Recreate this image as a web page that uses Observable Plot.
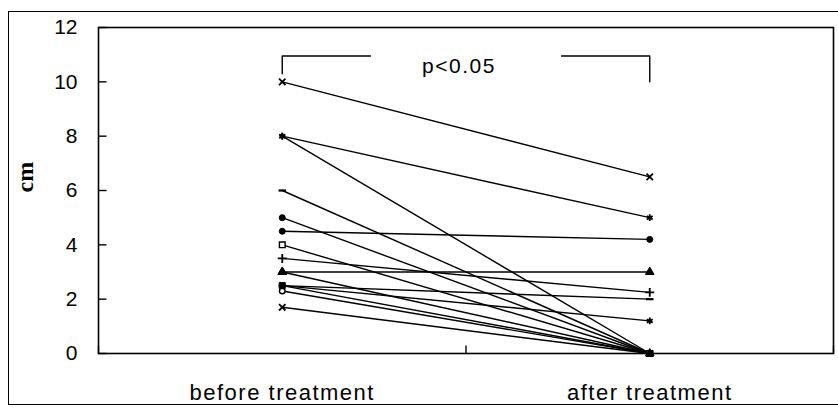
<!DOCTYPE html>
<html><head><meta charset="utf-8">
<script src="https://cdn.jsdelivr.net/npm/d3@7"></script>
<script src="https://cdn.jsdelivr.net/npm/@observablehq/plot@0.6"></script>
<style>
body{margin:0;background:#fff;}
#wrap{position:relative;width:838px;height:417px;overflow:hidden;background:#fff;}
#outer{position:absolute;left:8px;top:11px;width:845px;height:394px;border:1.5px solid #000;box-sizing:border-box;pointer-events:none;}
#chart{position:absolute;left:0;top:0;}
</style></head>
<body><div id="wrap"><div id="chart"></div><div id="outer"></div></div>
<script>
// ---- data ----
const categories = ["before treatment", "after treatment"];
const beforeValues = [10, 8, 8, 6, 5, 4.5, 4, 3.5, 3, 3, 2.5, 2.5, 2.5, 2.3, 1.7];
const afterValues  = [6.5, 5, 0, 0, 0, 4.2, 0, 2.25, 3, 0, 2, 1.2, 0, 0, 0];
const seriesMarkers = ["times","asterisk","asterisk","dash","circle","circle","squareOpen","plus",
                       "triangle","triangle","dash","asterisk","square","circleOpen","times"];
const yTicks = [0, 2, 4, 6, 8, 10, 12];
const xTicks = [0, 1, 2];
const yLabel = "cm";
const pLabel = "p<0.05";
const bracketY = 10.95;
const bracketLeft = [[0.5, 10.3], [0.5, bracketY], [0.74, bracketY]];
const bracketRight = [[1.26, bracketY], [1.5, bracketY], [1.5, 10.0]];

// ---- build rows ----
const rows = [];
beforeValues.forEach((v, i) => {
  rows.push({series: i, x: 0.5, y: v, marker: seriesMarkers[i]});
  rows.push({series: i, x: 1.5, y: afterValues[i], marker: seriesMarkers[i]});
});

// custom symbols
const dashSym = {draw(ctx, size) { const w = Math.sqrt(size) * 0.7; ctx.moveTo(-w, 0); ctx.lineTo(w, 0); }};
const tickRight = {draw(ctx) { ctx.moveTo(0, 0); ctx.lineTo(8, 0); }};
const tickUp = {draw(ctx) { ctx.moveTo(0, 0); ctx.lineTo(0, -8); }};

const markerStyles = {
  times:      {symbol: "times", fill: "none", stroke: "black", strokeWidth: 1.8, r: 3},
  asterisk:   {symbol: "asterisk", fill: "none", stroke: "black", strokeWidth: 1.8, r: 3.2},
  dash:       {symbol: dashSym, fill: "none", stroke: "black", strokeWidth: 2.2, r: 3},
  circle:     {symbol: "circle", fill: "black", stroke: "black", strokeWidth: 1, r: 3},
  circleOpen: {symbol: "circle", fill: "white", stroke: "black", strokeWidth: 1.4, r: 2.8},
  square:     {symbol: "square", fill: "black", stroke: "black", strokeWidth: 1, r: 3.4},
  squareOpen: {symbol: "square", fill: "white", stroke: "black", strokeWidth: 1.4, r: 3.2},
  plus:       {symbol: "plus", fill: "none", stroke: "black", strokeWidth: 1.8, r: 3},
  triangle:   {symbol: "triangle", fill: "black", stroke: "black", strokeWidth: 1, r: 3.2}
};

const dotMarks = Object.entries(markerStyles).map(([name, st]) =>
  Plot.dot(rows.filter(d => d.marker === name), {x: "x", y: "y", ...st})
);

const sans = "'Liberation Sans', Arial, Helvetica, sans-serif";

const chart = Plot.plot({
  width: 838,
  height: 417,
  marginLeft: 98,
  marginRight: 5,
  marginTop: 27,
  marginBottom: 64,
  style: {fontFamily: sans, background: "white", color: "black"},
  x: {domain: [0, categories.length], axis: null},
  y: {domain: [0, 12], axis: null},
  marks: [
    Plot.frame({stroke: "black", strokeWidth: 1.6}),
    // ticks pointing inward
    Plot.dot(yTicks, {x: 0, y: d => d, symbol: tickRight, stroke: "black", strokeWidth: 1.4}),
    Plot.dot(xTicks, {x: d => d, y: 0, symbol: tickUp, stroke: "black", strokeWidth: 1.4}),
    // y tick labels
    Plot.text(yTicks, {x: 0, y: d => d, text: d => String(d), dx: -21, textAnchor: "end",
      fontSize: 21, fill: "black", fontFamily: sans}),
    // category labels
    Plot.text(categories, {x: (d, i) => i + 0.5, y: 0, text: d => d, dy: 39,
      fontSize: 22, fill: "black", fontFamily: sans}),
    // y label
    Plot.text([yLabel], {frameAnchor: "left", dx: -73, dy: 2, rotate: -90,
      fontSize: 24, fontWeight: "bold", fontFamily: "'Liberation Serif', 'Times New Roman', serif", fill: "black"}),
    // significance bracket
    Plot.line(bracketLeft, {x: d => d[0], y: d => d[1], stroke: "black", strokeWidth: 1.4}),
    Plot.line(bracketRight, {x: d => d[0], y: d => d[1], stroke: "black", strokeWidth: 1.4}),
    Plot.text([pLabel], {x: 1, y: bracketY, dx: -7, dy: 10, fontSize: 21, fill: "black",
      fontFamily: sans}),
    // data lines
    Plot.line(rows, {x: "x", y: "y", z: "series", stroke: "black", strokeWidth: 1.4}),
    ...dotMarks
  ]
});
// letter spacing for the wide-set labels of the original
d3.select(chart).selectAll("text")
  .filter(function() { return categories.includes(this.textContent); })
  .style("letter-spacing", "1.5px");
d3.select(chart).selectAll("text")
  .filter(function() { return this.textContent === pLabel; })
  .style("letter-spacing", "1.5px");
document.getElementById("chart").appendChild(chart);
</script>
</body></html>
